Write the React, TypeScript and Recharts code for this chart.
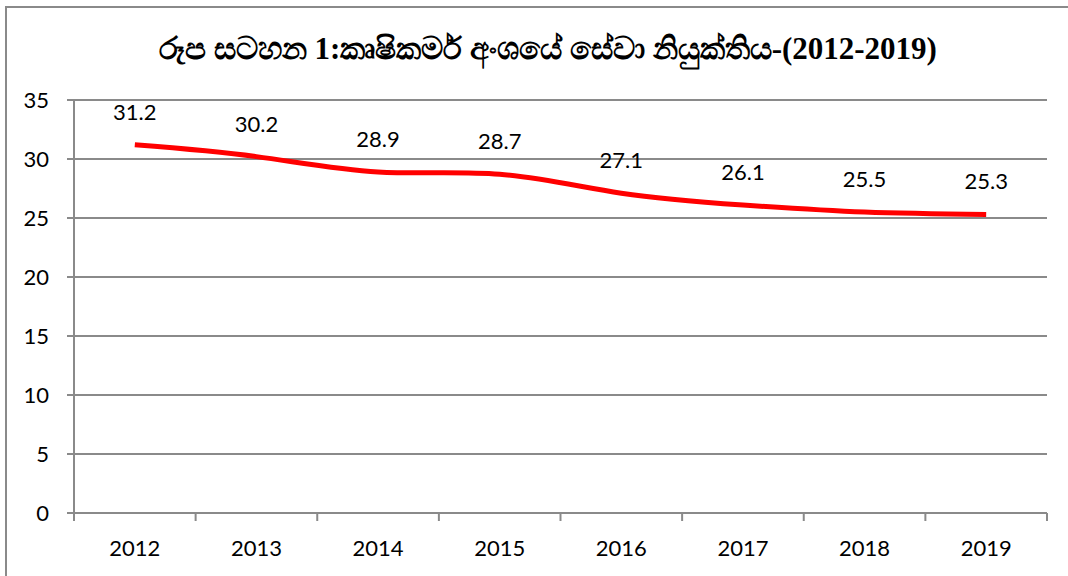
import { CartesianGrid, LabelList, Line, LineChart, XAxis, YAxis } from "recharts";

const years = ["2012", "2013", "2014", "2015", "2016", "2017", "2018", "2019"];
const employment = [31.2, 30.2, 28.9, 28.7, 27.1, 26.1, 25.5, 25.3];
const yTicks = [0, 5, 10, 15, 20, 25, 30, 35];

const titleText = "රූප සටහන 1:කෘෂිකර්ම අංශයේ සේවා නියුක්තිය-(2012-2019)";

// points sit in the middle of each year band, tick marks on the band edges
const data = years.map((year, i) => ({ x: i + 0.5, year, value: employment[i] }));
const xTicks = Array.from({ length: years.length * 2 + 1 }, (_, i) => i / 2);

const GRAY = "#8a8a8a";
const FONT = "Lato, 'Open Sans', sans-serif";

function YearTick({ x, y, payload }: { x?: number; y?: number; payload?: { value: number } }) {
  const v = payload?.value ?? 0;
  if (Number.isInteger(v)) {
    return <line x1={x} x2={x} y1={y} y2={(y ?? 0) + 8} stroke={GRAY} strokeWidth={2} />;
  }
  return (
    <text x={x} y={(y ?? 0) + 43} textAnchor="middle" fontSize={22} fontFamily={FONT} fill="#000">
      {years[Math.floor(v)]}
    </text>
  );
}

export default function App() {
  return (
    <div style={{ position: "absolute", left: 0, top: 0, width: 1068, height: 576, overflow: "hidden", background: "#fff" }}>
      <div
        style={{
          position: "absolute",
          left: 5,
          top: 6,
          width: 1200,
          height: 700,
          border: `2px solid ${GRAY}`
        }}
      />
      <LineChart
        width={1068}
        height={576}
        data={data}
        margin={{ top: 100, right: 21, bottom: 0, left: 14 }}
        style={{ position: "absolute", left: 0, top: 0 }}
      >
        <CartesianGrid stroke={GRAY} strokeWidth={2} vertical={false} />
        <XAxis
          dataKey="x"
          type="number"
          domain={[0, years.length]}
          ticks={xTicks}
          interval={0}
          height={63}
          axisLine={{ stroke: GRAY, strokeWidth: 2 }}
          tickLine={false}
          tickSize={0}
          tickMargin={0}
          tick={<YearTick />}
        />
        <YAxis
          domain={[0, 35]}
          ticks={yTicks}
          interval={0}
          width={60}
          axisLine={{ stroke: GRAY, strokeWidth: 2 }}
          tickLine={{ stroke: GRAY, strokeWidth: 2 }}
          tickSize={7}
          tickMargin={18}
          tick={{ fill: "#000", fontSize: 22, fontFamily: FONT }}
        />
        <Line
          type="natural"
          dataKey="value"
          stroke="#ff0000"
          strokeWidth={5}
          dot={false}
          activeDot={false}
          isAnimationActive={false}
        >
          <LabelList dataKey="value" position="top" offset={25} fill="#000" fontSize={22} fontFamily={FONT} />
        </Line>
      </LineChart>
      <svg width={1068} height={576} style={{ position: "absolute", left: 0, top: 0, pointerEvents: "none" }}>
        <text
          x={548}
          y={59}
          textAnchor="middle"
          fontSize={31}
          fontWeight="bold"
          fontFamily="'Liberation Serif', 'Noto Sans', serif"
          fill="#000"
        >
          {titleText}
        </text>
      </svg>
    </div>
  );
}
